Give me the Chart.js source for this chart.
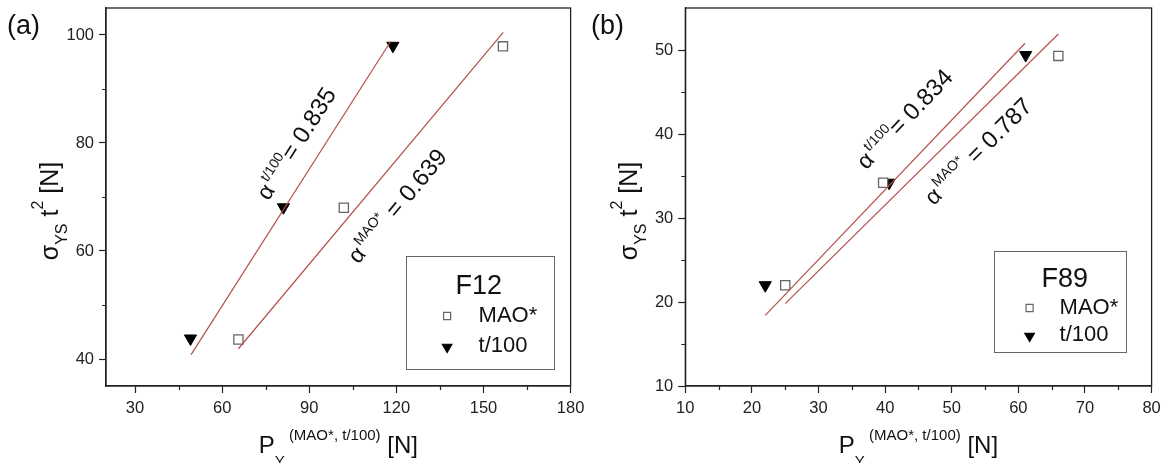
<!DOCTYPE html>
<html>
<head>
<meta charset="utf-8">
<script src="https://cdn.jsdelivr.net/npm/chart.js@4.4.1/dist/chart.umd.min.js"></script>
<style>
  html, body { margin: 0; padding: 0; background: #fff; }
  #wrap { position: relative; width: 1168px; height: 463px; }
  .pane { position: absolute; top: 0; width: 584px; height: 463px; }
</style>
</head>
<body>
<div id="wrap">
  <div class="pane" style="left:0"><canvas id="chartA" width="584" height="463"></canvas></div>
  <div class="pane" style="left:584px"><canvas id="chartB" width="584" height="463"></canvas></div>
</div>
<script>
const FONT = '"Liberation Sans", Arial, sans-serif';
const FIT_COLOR = '#b5504a';

// ---- panel (a): F12 ----
const aMaoX = [65.6, 101.9, 156.7];
const aMaoY = [43.6, 68.0, 97.9];
const aT100X = [49.1, 81.1, 118.8];
const aT100Y = [43.8, 68.1, 98.0];
const aFitMaoX = [65.6, 156.8];
const aFitMaoY = [41.9, 100.5];
const aFitT100X = [49.3, 118.0];
const aFitT100Y = [40.8, 98.8];
const aXTicks = [30, 60, 90, 120, 150, 180];
const aXMinor = [45, 75, 105, 135, 165];
const aYTicks = [40, 60, 80, 100];
const aYMinor = [50, 70, 90];
const aAlphaMao = '0.639';
const aAlphaT100 = '0.835';

// ---- panel (b): F89 ----
const bMaoX = [25.0, 39.7, 66.0];
const bMaoY = [22.0, 34.2, 49.3];
const bT100X = [22.0, 40.6, 61.1];
const bT100Y = [22.0, 34.2, 49.4];
const bFitMaoX = [25.0, 66.0];
const bFitMaoY = [19.8, 51.9];
const bFitT100X = [22.0, 61.0];
const bFitT100Y = [18.4, 50.8];
const bXTicks = [10, 20, 30, 40, 50, 60, 70, 80];
const bXMinor = [15, 25, 35, 45, 55, 65, 75];
const bYTicks = [10, 20, 30, 40, 50];
const bYMinor = [15, 25, 35, 45];
const bAlphaMao = '0.787';
const bAlphaT100 = '0.834';

function pts(xs, ys) {
    return xs.map((x, i) => ({ x: x, y: ys[i] }));
}

// draws a run of text pieces (size, vertical shift) one after another
function drawRich(ctx, parts, x, y, align) {
    let w = 0;
    parts.forEach(p => {
        ctx.font = p.size + 'px ' + FONT;
        p.w = ctx.measureText(p.t).width;
        w += p.w;
    });
    let cx = align === 'center' ? x - w / 2 : x;
    ctx.textAlign = 'left';
    ctx.textBaseline = 'alphabetic';
    parts.forEach(p => {
        ctx.font = p.size + 'px ' + FONT;
        ctx.fillText(p.t, cx, y + (p.dy || 0));
        cx += p.w;
    });
}

function makeChart(id, p) {
    const decor = {
        id: 'decor' + id,
        afterDraw(chart) {
            const ctx = chart.ctx;
            const ca = chart.chartArea;
            const xs = chart.scales.x, ys = chart.scales.y;
            ctx.save();

            // minor ticks
            ctx.strokeStyle = '#222';
            ctx.lineWidth = 1.2;
            ctx.beginPath();
            p.xMinor.forEach(v => {
                const px = Math.round(xs.getPixelForValue(v)) + 0.5;
                ctx.moveTo(px, ca.bottom);
                ctx.lineTo(px, ca.bottom + 4);
            });
            p.yMinor.forEach(v => {
                const py = Math.round(ys.getPixelForValue(v)) + 0.5;
                ctx.moveTo(ca.left - 4, py);
                ctx.lineTo(ca.left, py);
            });
            ctx.stroke();

            // frame
            ctx.lineWidth = 1.3;
            ctx.strokeRect(ca.left, ca.top, ca.right - ca.left, ca.bottom - ca.top);

            // slope notes along the fit lines
            ctx.fillStyle = '#111';
            p.notes.forEach(n => {
                const x1 = xs.getPixelForValue(n.fx[0]), y1 = ys.getPixelForValue(n.fy[0]);
                const x2 = xs.getPixelForValue(n.fx[1]), y2 = ys.getPixelForValue(n.fy[1]);
                const ang = Math.atan2(y2 - y1, x2 - x1);
                const t = (n.at - n.fx[0]) / (n.fx[1] - n.fx[0]);
                ctx.save();
                ctx.translate(x1 + t * (x2 - x1), y1 + t * (y2 - y1));
                ctx.rotate(ang);
                drawRich(ctx, n.parts, 0, n.off, 'left');
                ctx.restore();
            });

            // legend box
            const L = p.legend;
            const bx = ca.right - L.right - L.w, by = ca.bottom - L.bottom - L.h;
            ctx.strokeStyle = '#666';
            ctx.lineWidth = 1;
            ctx.strokeRect(Math.round(bx) + 0.5, Math.round(by) + 0.5, L.w, L.h);
            ctx.fillStyle = '#111';
            ctx.font = '27px ' + FONT;
            ctx.textAlign = 'left';
            ctx.textBaseline = 'alphabetic';
            ctx.fillText(L.title, bx + L.titleX, by + L.titleY);
            ctx.font = '22px ' + FONT;
            ctx.textBaseline = 'middle';
            ctx.fillText('MAO*', bx + L.textX, by + L.row1);
            ctx.fillText('t/100', bx + L.textX, by + L.row2);
            ctx.fillStyle = '#fff';
            ctx.strokeStyle = '#666';
            ctx.lineWidth = 1.2;
            Chart.helpers.drawPoint(ctx, { pointStyle: 'rect', radius: 5, rotation: 0, borderWidth: 1.2 }, bx + L.markX, by + L.row1);
            ctx.fillStyle = '#000';
            ctx.strokeStyle = '#000';
            Chart.helpers.drawPoint(ctx, { pointStyle: 'triangle', radius: 5.5, rotation: 180, borderWidth: 1 }, bx + L.markX, by + L.row2 + 1);

            // axis titles
            ctx.fillStyle = '#111';
            drawRich(ctx, [
                { t: 'P', size: 24 },
                { t: 'Y', size: 15, dy: 13 },
                { t: ' (MAO*, t/100)', size: 15, dy: -13 },
                { t: ' [N]', size: 24 }
            ], (ca.left + ca.right) / 2, ca.bottom + 67, 'center');

            ctx.save();
            ctx.translate(ca.left - 48, (ca.top + ca.bottom) / 2 + 14);
            ctx.rotate(-Math.PI / 2);
            drawRich(ctx, [
                { t: 'σ', size: 25 },
                { t: 'YS', size: 16, dy: 9 },
                { t: ' t', size: 25 },
                { t: '2', size: 16, dy: -15 },
                { t: ' [N]', size: 25 }
            ], 0, 0, 'center');
            ctx.restore();

            // panel letter
            ctx.font = '27px ' + FONT;
            ctx.textBaseline = 'alphabetic';
            ctx.fillText(p.letter, 7, 34);
            ctx.restore();
        }
    };

    const axisCommon = {
        type: 'linear',
        grid: { drawOnChartArea: false, drawTicks: true, tickLength: 7, tickColor: '#222', tickWidth: 1.2 },
        border: { display: true, color: '#222', width: 1.3 },
        ticks: { color: '#222', font: { family: FONT, size: 16.5 }, maxRotation: 0, autoSkip: false }
    };

    return new Chart(document.getElementById(id), {
        type: 'scatter',
        data: {
            datasets: [
                { label: 't/100 fit', data: pts(p.fitT100X, p.fitT100Y), showLine: true, borderColor: FIT_COLOR, borderWidth: 1.2, pointRadius: 0 },
                { label: 'MAO* fit', data: pts(p.fitMaoX, p.fitMaoY), showLine: true, borderColor: FIT_COLOR, borderWidth: 1.2, pointRadius: 0 },
                { label: 'MAO*', data: pts(p.maoX, p.maoY), pointStyle: 'rect', pointRadius: 6.5, backgroundColor: '#fff', borderColor: '#666', borderWidth: 1.3 },
                { label: 't/100', data: pts(p.t100X, p.t100Y), pointStyle: 'triangle', rotation: 180, pointRadius: 7, backgroundColor: '#000', borderColor: '#000', borderWidth: 1 }
            ]
        },
        options: {
            responsive: false,
            animation: false,
            events: [],
            layout: { padding: { left: 0, right: p.padRight, top: 8, bottom: 0 } },
            plugins: { legend: { display: false }, tooltip: { enabled: false } },
            scales: {
                x: Object.assign({}, axisCommon, {
                    min: p.xMin, max: p.xMax,
                    ticks: Object.assign({}, axisCommon.ticks, { padding: 6 }),
                    afterBuildTicks: s => { s.ticks = p.xTicks.map(v => ({ value: v })); },
                    afterFit: s => { s.height = 77; s.paddingLeft = 0; s.paddingRight = 0; }
                }),
                y: Object.assign({}, axisCommon, {
                    min: p.yMin, max: p.yMax,
                    ticks: Object.assign({}, axisCommon.ticks, { padding: 5 }),
                    afterBuildTicks: s => { s.ticks = p.yTicks.map(v => ({ value: v })); },
                    afterFit: s => { s.width = p.left; s.paddingTop = 0; s.paddingBottom = 0; }
                })
            }
        },
        plugins: [decor]
    });
}

makeChart('chartA', {
    letter: '(a)',
    xMin: 20, xMax: 180, yMin: 35, yMax: 105,
    left: 106, padRight: 13.4,
    maoX: aMaoX, maoY: aMaoY, t100X: aT100X, t100Y: aT100Y,
    fitMaoX: aFitMaoX, fitMaoY: aFitMaoY, fitT100X: aFitT100X, fitT100Y: aFitT100Y,
    xTicks: aXTicks, xMinor: aXMinor, yTicks: aYTicks, yMinor: aYMinor,
    notes: [
        { fx: aFitT100X, fy: aFitT100Y, at: 80.9, off: -17, parts: [
            { t: 'α', size: 23 }, { t: ' ', size: 8 }, { t: 't/100', size: 14, dy: -11 }, { t: '= ' + aAlphaT100, size: 24 }] },
        { fx: aFitMaoX, fy: aFitMaoY, at: 96.8, off: 38, parts: [
            { t: 'α', size: 23 }, { t: ' ', size: 8 }, { t: 'MAO*', size: 14, dy: -11 }, { t: ' = ' + aAlphaMao, size: 24 }] }
    ],
    legend: { title: 'F12', w: 148, h: 113, right: 17, bottom: 17, titleX: 50, titleY: 38, markX: 41.5, textX: 73, row1: 60, row2: 90 }
});

makeChart('chartB', {
    letter: '(b)',
    xMin: 10, xMax: 80, yMin: 10, yMax: 55,
    left: 101.3, padRight: 16.4,
    maoX: bMaoX, maoY: bMaoY, t100X: bT100X, t100Y: bT100Y,
    fitMaoX: bFitMaoX, fitMaoY: bFitMaoY, fitT100X: bFitT100X, fitT100Y: bFitT100Y,
    xTicks: bXTicks, xMinor: bXMinor, yTicks: bYTicks, yMinor: bYMinor,
    notes: [
        { fx: bFitT100X, fy: bFitT100Y, at: 40.1, off: -27, parts: [
            { t: 'α', size: 23 }, { t: ' ', size: 8 }, { t: 't/100', size: 14, dy: -11 }, { t: '= ' + bAlphaT100, size: 24 }] },
        { fx: bFitMaoX, fy: bFitMaoY, at: 43.6, off: 35, parts: [
            { t: 'α', size: 23 }, { t: ' ', size: 8 }, { t: 'MAO*', size: 14, dy: -11 }, { t: ' = ' + bAlphaMao, size: 24 }] }
    ],
    legend: { title: 'F89', w: 132, h: 101, right: 26, bottom: 34, titleX: 48, titleY: 36, markX: 36, textX: 66, row1: 57, row2: 84 }
});
</script>
</body>
</html>
